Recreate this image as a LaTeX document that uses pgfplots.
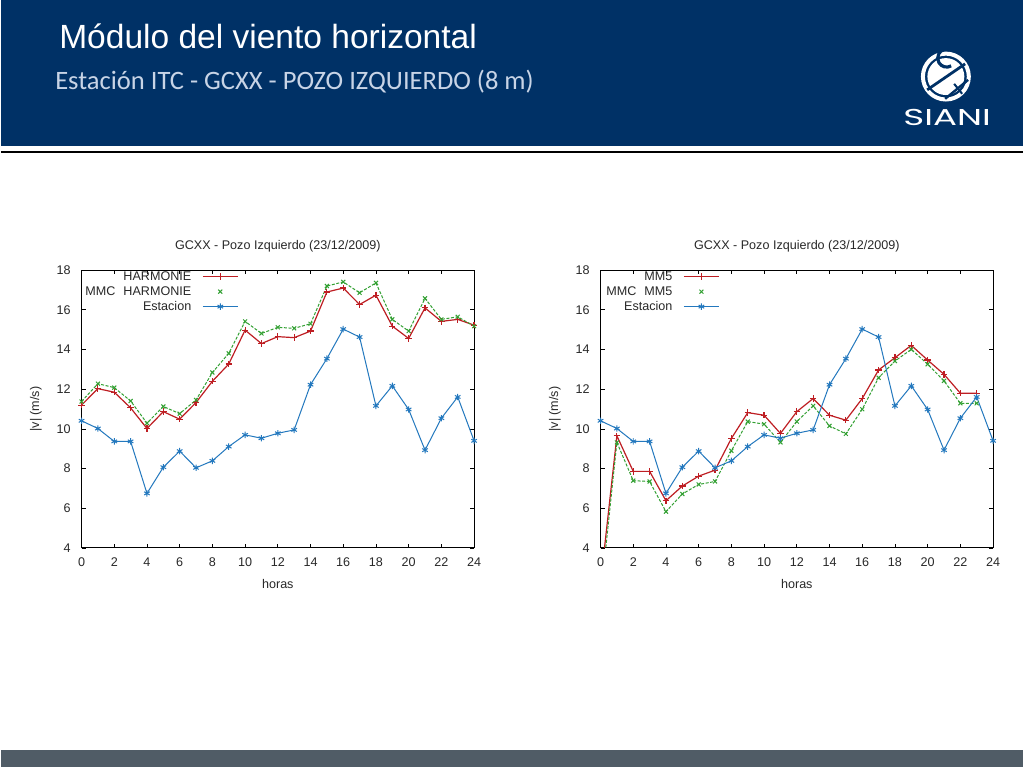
\documentclass[border=0pt]{standalone}
\usepackage{pgfplots}
\pgfplotsset{compat=1.18}
\usepackage{fontspec}
\setmainfont{Liberation Sans}
\newfontfamily\carlito{Carlito}
\newfontfamily\poppins{Poppins}
\definecolor{navy}{RGB}{0,49,102}
\definecolor{subc}{RGB}{200,212,230}
\definecolor{footc}{RGB}{80,92,102}
\definecolor{cred}{RGB}{190,30,35}
\definecolor{cgreen}{RGB}{50,160,50}
\definecolor{cblue}{RGB}{35,120,190}
\definecolor{txt}{RGB}{40,40,40}

\pgfplotsset{
  gp/.style={
    width=196.65pt, height=139.15pt, scale only axis,
    xmin=0, xmax=24, ymin=4, ymax=18,
    xtick={0,2,...,24}, ytick={4,6,...,18},
    tick align=inside, major tick length=2pt,
    axis line style={line width=0.5pt},
    every tick/.style={line width=0.4pt, black},
    /pgf/number format/assume math mode=true,
    tick label style={font=\fontsize{6.3}{7}\selectfont, text=txt},
    y tick label style={inner sep=0pt, xshift=-5.3pt},
    x tick label style={inner sep=0pt, yshift=-4.7pt},
    every axis title/.style={at={(axis description cs:0.5,1.0852)}, anchor=center, font=\fontsize{6.3}{7}\selectfont, text=txt},
    every axis x label/.style={at={(axis description cs:0.5,-0.1294)}, anchor=center, font=\fontsize{6.3}{7}\selectfont, text=txt},
    every axis y label/.style={at={(axis description cs:-0.1162,0.5)}, rotate=90, anchor=center, font=\fontsize{6.3}{7}\selectfont, text=txt},
    xlabel={horas}, ylabel={|v| (m/s)},
    title={GCXX - Pozo Izquierdo (23/12/2009)},
    legend cell align=right, legend plot pos=right,
    legend style={draw=none, fill=none, inner sep=0pt, outer sep=0pt,
      font=\fontsize{6.3}{7}\selectfont, text=txt,
      row sep=1pt, column sep=5pt,
      nodes={inner sep=0.5pt, text height=4.6pt, text depth=0.9pt}},
    legend image code/.code={\draw[mark repeat=2,mark phase=2,#1] plot coordinates {(0pt,0pt) (8.75pt,0pt) (17.5pt,0pt)};},
  },
  redp/.style={color=cred, line width=0.6pt, mark=+, mark size=1.6pt, mark options={solid}},
  greenp/.style={color=cgreen, line width=0.5pt, dash pattern=on 1.5pt off 0.8pt, mark=x, mark size=1.4pt, mark options={solid},
    legend image code/.code={\draw[##1] plot[only marks] coordinates {(8.75pt,0pt)};}},
  bluep/.style={color=cblue, line width=0.5pt, mark=asterisk, mark size=1.6pt, mark options={solid}},
}

\pgfplotstableread{
h v
0 10.41
1 10.02
2 9.37
3 9.37
4 6.75
5 8.07
6 8.88
7 8.04
8 8.39
9 9.11
10 9.70
11 9.53
12 9.78
13 9.95
14 12.23
15 13.54
16 15.03
17 14.63
18 11.16
19 12.17
20 10.98
21 8.93
22 10.54
23 11.61
24 9.40
}\estacion

\pgfplotstableread{
h v
0 11.20
1 12.03
2 11.85
3 11.06
4 10.02
5 10.87
6 10.49
7 11.33
8 12.40
9 13.27
10 14.98
11 14.30
12 14.65
13 14.60
14 14.93
15 16.90
16 17.10
17 16.27
18 16.74
19 15.18
20 14.56
21 16.10
22 15.42
23 15.52
24 15.23
}\harmonie

\pgfplotstableread{
h v
0 11.38
1 12.28
2 12.08
3 11.41
4 10.29
5 11.13
6 10.77
7 11.46
8 12.84
9 13.81
10 15.42
11 14.81
12 15.12
13 15.07
14 15.30
15 17.20
16 17.41
17 16.86
18 17.36
19 15.52
20 14.93
21 16.58
22 15.52
23 15.65
24 15.18
}\mmcharmonie

\pgfplotstableread{
h v
0 2.20
1 9.65
2 7.86
3 7.86
4 6.38
5 7.12
6 7.62
7 7.92
8 9.52
9 10.82
10 10.69
11 9.77
12 10.87
13 11.53
14 10.69
15 10.44
16 11.53
17 12.97
18 13.59
19 14.21
20 13.47
21 12.75
22 11.80
23 11.80
}\mmfive

\pgfplotstableread{
h v
0 1.50
1 9.32
2 7.39
3 7.35
4 5.83
5 6.72
6 7.20
7 7.35
8 8.90
9 10.37
10 10.24
11 9.32
12 10.37
13 11.16
14 10.15
15 9.75
16 10.99
17 12.58
18 13.42
19 14.01
20 13.26
21 12.42
22 11.29
23 11.29
}\mmcmmfive

\begin{document}
\begin{tikzpicture}
\begin{scope}[x=0.5pt,y=-0.5pt]
  \fill[white] (0,0) rectangle (1024,768);
  \fill[navy] (0,0) rectangle (1024,146);
  \draw[black, line width=1pt] (0,152) -- (1024,152);
  \fill[footc] (0,751) rectangle (1024,768);
  \node[anchor=base west, text=white, font=\fontsize{16.8}{19}\selectfont, inner sep=0pt] at (58,49) {Módulo del viento horizontal};
  \node[anchor=base west, text=subc, font=\carlito\fontsize{13.3}{15}\selectfont, inner sep=0pt] at (54,89.3) {Estación ITC - GCXX - POZO IZQUIERDO (8 m)};
  % logo
  \fill[white] (946.7,76.7) circle (18.5);
  \draw[white, line width=2pt] (946.7,76.7) circle (23);
  \draw[navy, line width=1.6pt] (952,66) arc[start angle=60, end angle=250, radius=9];
  \draw[navy, line width=1.4pt] (928,90) -- (966,64);
  \draw[navy, line width=1.2pt] (946,99) -- (969,80);
  \draw[navy, line width=1pt] (955,84) -- (963,94);
  \node[anchor=base, text=white, font=\poppins\fontsize{11.5}{13}\selectfont, inner sep=0pt, xscale=1.55] at (948,126) {SIANI};
\end{scope}

\begin{axis}[gp, at={(40.35pt,-274.5pt)}, anchor=south west,
  legend style={at={(axis description cs:0.3995,1)}, anchor=north east}]
  \addplot[redp] table[x=h,y=v] {\harmonie};
  \addlegendentry{HARMONIE}
  \addplot[greenp] table[x=h,y=v] {\mmcharmonie};
  \addlegendentry{MMC\hspace{4pt}HARMONIE}
  \addplot[bluep] table[x=h,y=v] {\estacion};
  \addlegendentry{Estacion}
\end{axis}

\begin{axis}[gp, at={(300.35pt,-274.5pt)}, anchor=south west,
  legend style={at={(axis description cs:0.303,1)}, anchor=north east}]
  \addplot[redp] table[x=h,y=v] {\mmfive};
  \addlegendentry{MM5}
  \addplot[greenp] table[x=h,y=v] {\mmcmmfive};
  \addlegendentry{MMC\hspace{4pt}MM5}
  \addplot[bluep] table[x=h,y=v] {\estacion};
  \addlegendentry{Estacion}
\end{axis}
\end{tikzpicture}
\end{document}
